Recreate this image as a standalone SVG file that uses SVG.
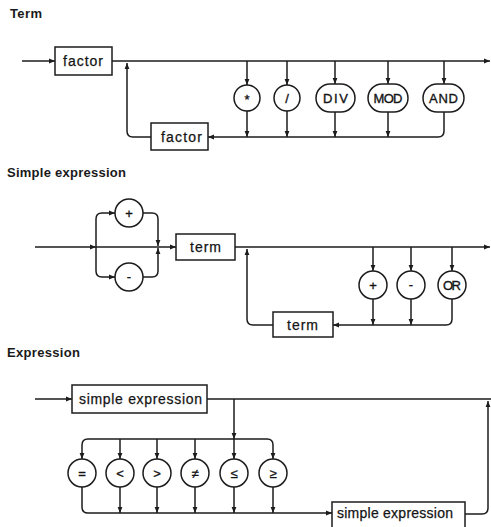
<svg xmlns="http://www.w3.org/2000/svg" width="491" height="527" viewBox="0 0 491 527">
<style>
  .ln{fill:none;stroke:#1c1c1c;stroke-width:1.5}
  .bx{fill:#fff;stroke:#1c1c1c;stroke-width:1.5}
  .t{font-family:"Liberation Sans",Arial,sans-serif;font-size:14px;fill:#141414;stroke:#141414;stroke-width:0.25}
  .h{font-family:"Liberation Sans",Arial,sans-serif;font-size:13px;font-weight:bold;fill:#1a1a1a}
  .s{font-family:"Liberation Sans",Arial,sans-serif;font-size:13px;fill:#141414;stroke:#141414;stroke-width:0.35;text-anchor:middle}
</style>
<defs>
  <marker id="a" viewBox="0 0 10 10" refX="10" refY="5" markerWidth="7" markerHeight="6" markerUnits="userSpaceOnUse" orient="auto">
    <path d="M0,1 L10,5 L0,9 z" fill="#1c1c1c"/>
  </marker>
</defs>
<rect width="491" height="527" fill="#fff"/>

<text class="h" x="10" y="18" textLength="32" lengthAdjust="spacing">Term</text>
<text class="h" x="7" y="177" textLength="119" lengthAdjust="spacing">Simple expression</text>
<text class="h" x="7" y="357" textLength="73" lengthAdjust="spacing">Expression</text>

<g id="connectors">
  <!-- Term -->
  <path class="ln" d="M22,61 H55" marker-end="url(#a)"/>
  <path class="ln" d="M112,61 H490" marker-end="url(#a)"/>
  <path class="ln" d="M247,61 V85" marker-end="url(#a)"/>
  <path class="ln" d="M287,61 V85" marker-end="url(#a)"/>
  <path class="ln" d="M335,61 V84" marker-end="url(#a)"/>
  <path class="ln" d="M388,61 V84" marker-end="url(#a)"/>
  <path class="ln" d="M444,61 V84" marker-end="url(#a)"/>
  <path class="ln" d="M247,111 V137" marker-end="url(#a)"/>
  <path class="ln" d="M287,111 V137" marker-end="url(#a)"/>
  <path class="ln" d="M335,112 V137" marker-end="url(#a)"/>
  <path class="ln" d="M388,112 V137" marker-end="url(#a)"/>
  <path class="ln" d="M444,112 V131 Q444,137 438,137 H208" marker-end="url(#a)"/>
  <path class="ln" d="M151,137 H133 Q127,137 127,131 V63" marker-end="url(#a)"/>
  <!-- Simple expression -->
  <path class="ln" d="M35,247 H96" marker-end="url(#a)"/>
  <path class="ln" d="M96,247 H176" marker-end="url(#a)"/>
  <path class="ln" d="M96,247 V219 Q96,213 102,213 H115" marker-end="url(#a)"/>
  <path class="ln" d="M96,247 V271 Q96,277 102,277 H115" marker-end="url(#a)"/>
  <path class="ln" d="M143,213 H152 Q158,213 158,219 V246" marker-end="url(#a)"/>
  <path class="ln" d="M143,277 H152 Q158,277 158,271 V248" marker-end="url(#a)"/>
  <path class="ln" d="M235,247 H490" marker-end="url(#a)"/>
  <path class="ln" d="M273,325 H253 Q247,325 247,319 V249" marker-end="url(#a)"/>
  <path class="ln" d="M373,247 V271" marker-end="url(#a)"/>
  <path class="ln" d="M411,247 V271" marker-end="url(#a)"/>
  <path class="ln" d="M452,247 V271" marker-end="url(#a)"/>
  <path class="ln" d="M373,299 V325" marker-end="url(#a)"/>
  <path class="ln" d="M411,299 V325" marker-end="url(#a)"/>
  <path class="ln" d="M452,299 V319 Q452,325 446,325 H333" marker-end="url(#a)"/>
  <!-- Expression -->
  <path class="ln" d="M35,399 H72" marker-end="url(#a)"/>
  <path class="ln" d="M207,399 H491"/>
  <path class="ln" d="M234,399 V439" marker-end="url(#a)"/>
  <path class="ln" d="M158,439 H88 Q82,439 82,445 V459" marker-end="url(#a)"/>
  <path class="ln" d="M158,439 H267 Q273,439 273,445 V459" marker-end="url(#a)"/>
  <path class="ln" d="M120,439 V459" marker-end="url(#a)"/>
  <path class="ln" d="M157,439 V459" marker-end="url(#a)"/>
  <path class="ln" d="M195,439 V459" marker-end="url(#a)"/>
  <path class="ln" d="M234,439 V459" marker-end="url(#a)"/>
  <path class="ln" d="M82,487 V507 Q82,513 88,513 H332" marker-end="url(#a)"/>
  <path class="ln" d="M120,487 V513" marker-end="url(#a)"/>
  <path class="ln" d="M157,487 V513" marker-end="url(#a)"/>
  <path class="ln" d="M195,487 V513" marker-end="url(#a)"/>
  <path class="ln" d="M234,487 V513" marker-end="url(#a)"/>
  <path class="ln" d="M273,487 V513" marker-end="url(#a)"/>
  <path class="ln" d="M465,514 H482 Q488,514 488,508 V401" marker-end="url(#a)"/>
</g>

<!-- Term nodes -->
<g id="term-factor1"><rect class="bx" x="55" y="47" width="57" height="28"/><text class="t" x="63" y="66" textLength="40" lengthAdjust="spacing">factor</text></g>
<g id="term-factor2"><rect class="bx" x="151" y="123" width="57" height="27"/><text class="t" x="161" y="142" textLength="41" lengthAdjust="spacing">factor</text></g>
<g id="term-mul"><circle class="bx" cx="247" cy="98" r="13"/><text class="s" x="247" y="104">*</text></g>
<g id="term-div-slash"><circle class="bx" cx="287" cy="98" r="13"/><text class="s" x="287" y="102.5">/</text></g>
<g id="term-DIV"><rect class="bx" x="316" y="84" width="39" height="28" rx="14"/><text class="s" x="335.5" y="102.5" textLength="25" lengthAdjust="spacing">DIV</text></g>
<g id="term-MOD"><rect class="bx" x="368" y="84" width="40" height="28" rx="14"/><text class="s" x="388" y="102.5" textLength="29" lengthAdjust="spacing">MOD</text></g>
<g id="term-AND"><rect class="bx" x="423" y="84" width="41" height="28" rx="14"/><text class="s" x="443.5" y="102.5" textLength="29" lengthAdjust="spacing">AND</text></g>

<!-- Simple expression nodes -->
<g id="se-plus"><circle class="bx" cx="129" cy="213" r="14"/><text class="s" x="129" y="217.5">+</text></g>
<g id="se-minus"><circle class="bx" cx="129" cy="277" r="14"/><text class="s" x="129" y="281">-</text></g>
<g id="se-term1"><rect class="bx" x="176" y="234" width="59" height="26"/><text class="t" x="190" y="252" textLength="31" lengthAdjust="spacing">term</text></g>
<g id="se-term2"><rect class="bx" x="273" y="312" width="60" height="25"/><text class="t" x="287" y="330" textLength="31" lengthAdjust="spacing">term</text></g>
<g id="se-add"><circle class="bx" cx="373" cy="285" r="14"/><text class="s" x="373" y="289.5">+</text></g>
<g id="se-sub"><circle class="bx" cx="411" cy="285" r="14"/><text class="s" x="411" y="289">-</text></g>
<g id="se-or"><circle class="bx" cx="452" cy="285" r="14"/><text class="s" x="452" y="289.5" textLength="18" lengthAdjust="spacing">OR</text></g>

<!-- Expression nodes -->
<g id="ex-simple1"><rect class="bx" x="72" y="385" width="135" height="28"/><text class="t" x="79" y="404" textLength="123" lengthAdjust="spacing">simple expression</text></g>
<g id="ex-eq"><circle class="bx" cx="82" cy="473" r="14"/><text class="s" x="82" y="477.5">=</text></g>
<g id="ex-lt"><circle class="bx" cx="120" cy="473" r="14"/><text class="s" x="120" y="477.5">&lt;</text></g>
<g id="ex-gt"><circle class="bx" cx="157" cy="473" r="14"/><text class="s" x="157" y="477.5">&gt;</text></g>
<g id="ex-ne"><circle class="bx" cx="195" cy="473" r="14"/><text class="s" x="195" y="477.5">≠</text></g>
<g id="ex-le"><circle class="bx" cx="234" cy="473" r="14"/><text class="s" x="234" y="477.5">≤</text></g>
<g id="ex-ge"><circle class="bx" cx="273" cy="473" r="14"/><text class="s" x="273" y="477.5">≥</text></g>
<g id="ex-simple2"><rect class="bx" x="332" y="502" width="133" height="29"/><text class="t" x="337" y="518" textLength="116" lengthAdjust="spacing">simple expression</text></g>
</svg>
